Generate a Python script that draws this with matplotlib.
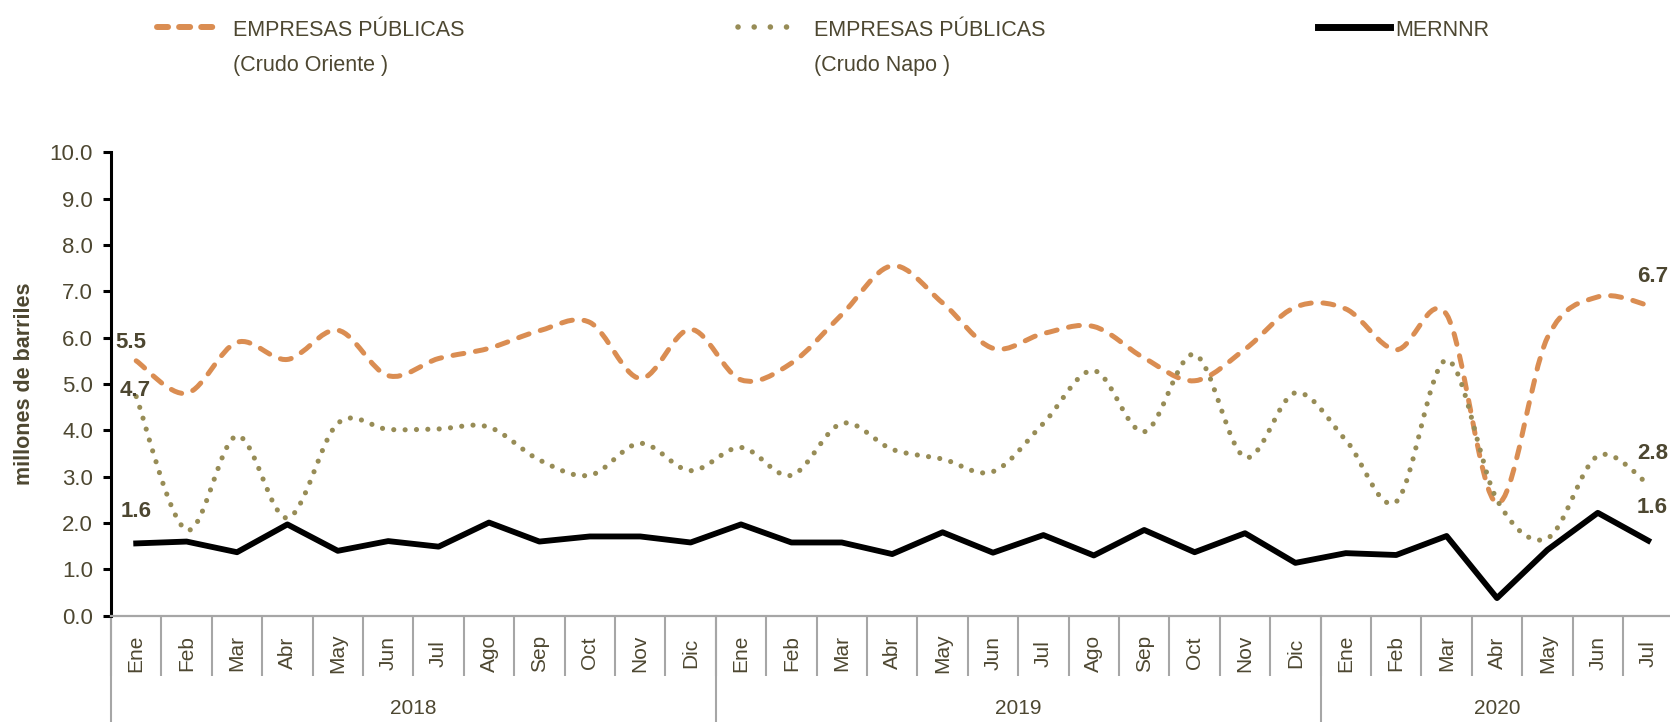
import matplotlib
matplotlib.use("Agg")
import matplotlib.pyplot as plt
from matplotlib.path import Path
from matplotlib.patches import PathPatch
from matplotlib.lines import Line2D
import numpy as np

# Month categories and years
meses = ['Ene', 'Feb', 'Mar', 'Abr', 'May', 'Jun', 'Jul', 'Ago', 'Sep', 'Oct', 'Nov', 'Dic']
month_labels = meses + meses + meses[:7]
years = ['2018', '2019', '2020']
year_counts = [12, 12, 7]

# Values in millions of barrels
crudo_oriente = [5.50, 4.80, 5.90, 5.53, 6.16, 5.18, 5.55, 5.77, 6.15, 6.33, 5.12, 6.18,
                 5.09, 5.45, 6.50, 7.55, 6.75, 5.77, 6.09, 6.24, 5.56, 5.07,
                 5.75, 6.66, 6.62, 5.74, 6.50, 2.43, 6.00, 6.88, 6.70]
crudo_napo = [4.73, 1.85, 3.88, 2.11, 4.15, 4.02, 4.03, 4.07, 3.36, 3.03, 3.72, 3.13,
              3.63, 3.03, 4.15, 3.59, 3.38, 3.11, 4.15, 5.29, 3.97, 5.64,
              3.42, 4.81, 3.79, 2.46, 5.52, 2.50, 1.67, 3.45, 2.84]
mernnr = [1.56, 1.60, 1.37, 1.97, 1.40, 1.61, 1.49, 2.01, 1.60, 1.71, 1.71, 1.58,
          1.97, 1.58, 1.58, 1.33, 1.80, 1.36, 1.74, 1.30, 1.85, 1.37,
          1.78, 1.14, 1.35, 1.31, 1.72, 0.38, 1.42, 2.22, 1.62]

TXT = '#4D4731'
ORANGE = '#DA8D52'
OLIVE = '#978C56'
GRID = '#A6A6A6'

plt.rcParams['font.family'] = ['Liberation Sans', 'DejaVu Sans']


# Excel-like smoothed line as bezier path built from the data points
def smooth_path(xs, ys):
    pts = np.column_stack([xs, ys]).astype(float)
    n = len(pts)
    verts = [pts[0]]
    codes = [Path.MOVETO]
    for i in range(n - 1):
        p0 = pts[max(i - 1, 0)]
        p1 = pts[i]
        p2 = pts[i + 1]
        p3 = pts[min(i + 2, n - 1)]
        verts += [p1 + (p2 - p0) / 6.0, p2 - (p3 - p1) / 6.0, p2]
        codes += [Path.CURVE4] * 3
    return Path(verts, codes)


fig = plt.figure(figsize=(16.7, 7.22), dpi=100)
ax = fig.add_axes([111 / 1670, 106.3 / 722, 1562.4 / 1670, 463.4 / 722])

x = np.arange(len(month_labels))

ax.add_patch(PathPatch(smooth_path(x, crudo_oriente), fill=False, edgecolor=ORANGE,
                       lw=3.6, linestyle=(0, (2.2, 2.35)), capstyle='round', zorder=3))
ax.add_patch(PathPatch(smooth_path(x, crudo_napo), fill=False, edgecolor=OLIVE,
                       lw=3.7, linestyle=(0, (0.01, 2.2)), capstyle='round', zorder=3))
ax.plot(x, mernnr, color='black', lw=4.2, zorder=4)

ax.set_xlim(-0.5, len(month_labels) - 0.5)
ax.set_ylim(0, 10)
ax.set_yticks(np.arange(0, 10.01, 1.0))
ax.set_yticklabels([f"{v:.1f}" for v in np.arange(0, 10.01, 1.0)])
ax.tick_params(axis='y', direction='out', length=6, width=2.2, color='black',
               labelsize=16, labelcolor=TXT, pad=7)

# month labels, boundaries as minor ticks
ax.set_xticks(x)
ax.set_xticklabels(month_labels, rotation=90, va='center')
ax.tick_params(axis='x', which='major', length=0, labelsize=15, labelcolor=TXT, pad=27)
ax.set_xticks(np.arange(-0.5, len(month_labels), 1.0), minor=True)
ax.tick_params(axis='x', which='minor', length=43, width=1.5, color=GRID, direction='out')

for side in ['top', 'right']:
    ax.spines[side].set_visible(False)
ax.spines['left'].set_linewidth(2.2)
ax.spines['left'].set_color('black')
ax.spines['bottom'].set_linewidth(1.6)
ax.spines['bottom'].set_color(GRID)

# year groups
trans = ax.get_xaxis_transform()
start = 0
for yr, cnt in zip(years, year_counts):
    ax.plot([start - 0.5, start - 0.5], [0, -0.3], transform=trans, color=GRID,
            lw=1.5, clip_on=False)
    ax.text(start + (cnt - 1) / 2.0, -0.2, yr, transform=trans, ha='center', va='center',
            fontsize=15, color=TXT)
    start += cnt

ax.set_ylabel('millones de barriles', fontsize=15.5, fontweight='bold', color=TXT)
ax.yaxis.set_label_coords(-0.0485, 0.5)

# data labels at both ends
lbl = dict(fontsize=16, fontweight='bold', color=TXT, textcoords='offset points',
           ha='center', va='center')
ax.annotate(f"{crudo_oriente[0]:.1f}", (x[0], crudo_oriente[0]), xytext=(-4, 13), **lbl)
ax.annotate(f"{crudo_napo[0]:.1f}", (x[0], crudo_napo[0]), xytext=(-1, 4), **lbl)
ax.annotate(f"{mernnr[0]:.1f}", (x[0], mernnr[0]), xytext=(0, 23), **lbl)
ax.annotate(f"{crudo_oriente[-1]:.1f}", (x[-1], crudo_oriente[-1]), xytext=(3, 21), **lbl)
ax.annotate(f"{crudo_napo[-1]:.1f}", (x[-1], crudo_napo[-1]), xytext=(3, 22), **lbl)
ax.annotate(f"{mernnr[-1]:.1f}", (x[-1], mernnr[-1]), xytext=(3, 24), **lbl)

# legend across the top
W, H = 1670.0, 722.0
fig.add_artist(Line2D([157 / W, 214 / W], [1 - 27 / H] * 2, color=ORANGE, lw=4.3,
                      linestyle=(0, (1.85, 1.85)), solid_capstyle='round',
                      dash_capstyle='round'))
fig.add_artist(Line2D([738 / W, 798 / W], [1 - 27 / H] * 2, color=OLIVE, lw=4.0,
                      linestyle=(0, (0.01, 2.9)), dash_capstyle='round'))
fig.add_artist(Line2D([1318 / W, 1390 / W], [1 - 27 / H] * 2, color='black', lw=5.0))
leg_txt = dict(fontsize=15.5, color=TXT, ha='left', va='baseline')
fig.text(233 / W, 1 - 35.5 / H, 'EMPRESAS PÚBLICAS', **leg_txt)
fig.text(233 / W, 1 - 70.5 / H, '(Crudo Oriente )', **leg_txt)
fig.text(814 / W, 1 - 35.5 / H, 'EMPRESAS PÚBLICAS', **leg_txt)
fig.text(814 / W, 1 - 70.5 / H, '(Crudo Napo )', **leg_txt)
fig.text(1395 / W, 1 - 35.5 / H, 'MERNNR', **leg_txt)

fig.savefig('out.png', dpi=100)
plt.close(fig)
